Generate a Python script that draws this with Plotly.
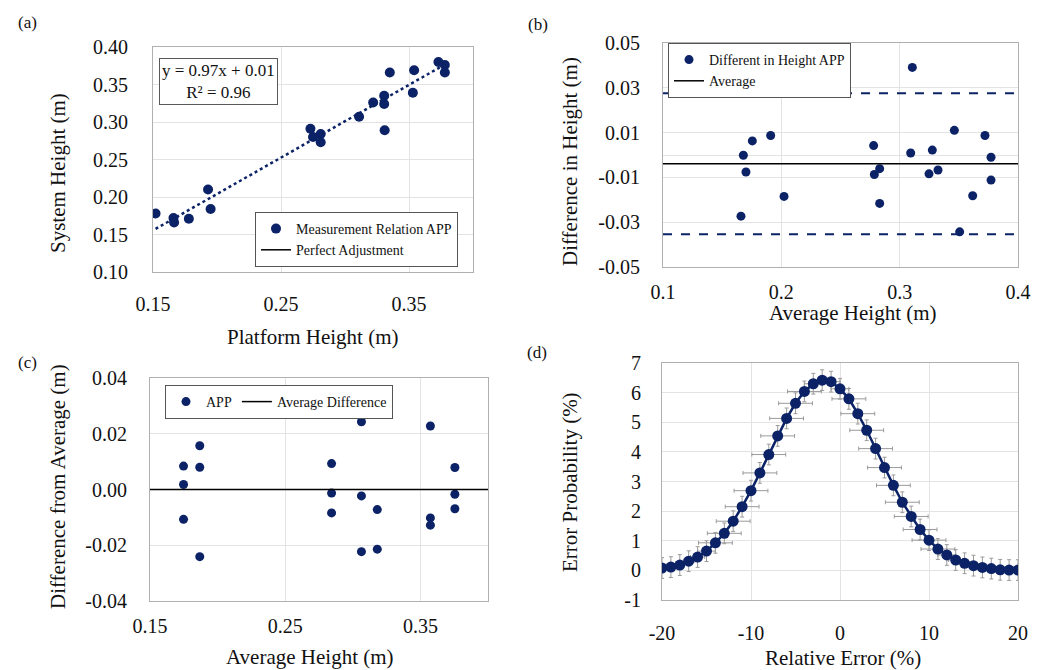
import plotly.graph_objects as go

# ---------------- DATA ----------------
# (a) Platform height vs system height
a_platform = [0.152, 0.166, 0.1665, 0.178, 0.193, 0.195, 0.273, 0.275, 0.281, 0.281, 0.311,
              0.322, 0.3306, 0.3306, 0.331, 0.335, 0.354, 0.353, 0.373, 0.378, 0.378]
a_system = [0.178, 0.172, 0.166, 0.171, 0.210, 0.184, 0.291, 0.280, 0.284, 0.273, 0.307,
            0.326, 0.335, 0.324, 0.289, 0.366, 0.369, 0.339, 0.380, 0.376, 0.366]
a_slope = 0.97
a_intercept = 0.01
a_equation = "y = 0.97x + 0.01<br>R² = 0.96"

# (b) Bland-Altman: difference in height
b_avg = [0.1659, 0.1679, 0.1701, 0.1755, 0.191, 0.2023, 0.278, 0.2786, 0.2831, 0.2831, 0.3093,
         0.3107, 0.3248, 0.3276, 0.3324, 0.3462, 0.3507, 0.3617, 0.3721, 0.3772, 0.3772]
b_diff = [-0.0273, -0.0001, -0.0076, 0.0063, 0.0087, -0.0185, 0.0042, -0.0087, -0.0061, -0.0216, 0.0009,
          0.0391, -0.0084, 0.0022, -0.0067, 0.0110, -0.0343, -0.0182, 0.0087, -0.0010, -0.0112]
b_mean_diff = -0.0039
b_upper = 0.0276
b_lower = -0.0354

# (c) Difference from average
c_avg = [0.1748, 0.1748, 0.1748, 0.1868, 0.1868, 0.1868, 0.2843, 0.2843, 0.2843, 0.3064, 0.3064,
         0.3064, 0.3181, 0.3181, 0.3181, 0.3574, 0.3574, 0.3574, 0.3755, 0.3755, 0.3755]
c_diff = [0.0084, 0.0018, -0.0107, 0.0157, 0.0080, -0.0241, 0.0093, -0.0013, -0.0084, 0.0243, -0.0023,
          -0.0223, 0.0284, -0.0072, -0.0214, 0.0228, -0.0102, -0.0128, 0.0079, -0.0017, -0.0069]
c_mean = 0.0

# (d) Error probability distribution
d_err = list(range(-20, 21))
d_prob = [0.08, 0.11, 0.18, 0.31, 0.45, 0.65, 0.93, 1.25, 1.66, 2.15, 2.69, 3.29, 3.91, 4.54, 5.13,
          5.64, 6.04, 6.30, 6.42, 6.37, 6.13, 5.79, 5.29, 4.73, 4.11, 3.47, 2.87, 2.30, 1.82, 1.38,
          1.02, 0.72, 0.52, 0.35, 0.24, 0.16, 0.10, 0.06, 0.02, 0.01, 0.01]
d_xerr = [0.1, 0.2, 0.4, 0.6, 0.8, 1.0,
          1.9, 1.9, 1.9, 1.9, 1.9, 1.9, 1.9, 1.9, 1.9, 1.9, 1.9,
          1.0, 1.0, 1.0, 1.0,
          1.9, 1.9, 1.9, 1.9, 1.9, 1.9, 1.9, 1.9, 1.9, 1.9,
          1.9, 1.0, 0.8, 0.5,
          0.3, 0.2, 0.1, 0.1, 0.1, 0.1]
d_yerr = 0.35

# tick labels
a_xticks = [0.15, 0.25, 0.35]
a_yticks = [0.10, 0.15, 0.20, 0.25, 0.30, 0.35, 0.40]
b_xticks = [0.1, 0.2, 0.3, 0.4]
b_yticks = [-0.05, -0.03, -0.01, 0.01, 0.03, 0.05]
c_xticks = [0.15, 0.25, 0.35]
c_yticks = [-0.04, -0.02, 0.0, 0.02, 0.04]
d_xticks = [-20, -10, 0, 10, 20]
d_yticks = list(range(-1, 8))

# ---------------- STYLE ----------------
PAGE_W, PAGE_H = 1045, 670
OFF = 8  # default page margin before the plot div
W, H = PAGE_W - OFF, PAGE_H - OFF
NAVY = "#0b2266"
FONT = "Liberation Serif, Times New Roman, serif"
GRID = "#e3e3e3"
BORDER = "#b0b0b0"
TXT = "#111111"


def fx(px):
    return (px - OFF) / W


def fy(py):
    return 1 - (py - OFF) / H


def lab(v, fmt):
    return (fmt % v).replace("−", "-")


fig = go.Figure()

# (a)
fig.add_trace(go.Scatter(x=a_platform, y=a_system, mode="markers", name="Measurement Relation APP",
                         marker=dict(color=NAVY, size=10), xaxis="x", yaxis="y", legend="legend"))
tx = [min(a_platform), max(a_platform)]
fig.add_trace(go.Scatter(x=tx, y=[a_slope * v + a_intercept for v in tx], mode="lines",
                         line=dict(color=NAVY, width=2.5, dash="dot"), showlegend=False,
                         xaxis="x", yaxis="y"))
fig.add_trace(go.Scatter(x=[None], y=[None], mode="lines", name="Perfect Adjustment",
                         line=dict(color="black", width=1.5), xaxis="x", yaxis="y", legend="legend"))

# (b)
fig.add_trace(go.Scatter(x=b_avg, y=b_diff, mode="markers", name="Different in Height APP",
                         marker=dict(color=NAVY, size=9), xaxis="x2", yaxis="y2", legend="legend2"))
bx = [b_xticks[0], b_xticks[-1]]
fig.add_trace(go.Scatter(x=bx, y=[b_mean_diff] * 2, mode="lines", name="Average",
                         line=dict(color="black", width=1.5), xaxis="x2", yaxis="y2", legend="legend2"))
for v in (b_upper, b_lower):
    fig.add_trace(go.Scatter(x=bx, y=[v] * 2, mode="lines", showlegend=False,
                             line=dict(color=NAVY, width=2, dash="dash"), xaxis="x2", yaxis="y2"))

# (c)
fig.add_trace(go.Scatter(x=c_avg, y=c_diff, mode="markers", name="APP",
                         marker=dict(color=NAVY, size=9), xaxis="x3", yaxis="y3", legend="legend3"))
cx = [0.15, 0.40]
fig.add_trace(go.Scatter(x=cx, y=[c_mean] * 2, mode="lines", name="Average Difference",
                         line=dict(color="black", width=1.5), xaxis="x3", yaxis="y3", legend="legend3"))

# (d)
fig.add_trace(go.Scatter(x=d_err, y=d_prob, mode="lines+markers", showlegend=False,
                         line=dict(color=NAVY, width=2.5), marker=dict(color=NAVY, size=11),
                         error_x=dict(type="data", array=d_xerr, color="#9a9a9a", thickness=1, width=2),
                         error_y=dict(type="constant", value=d_yerr, color="#9a9a9a", thickness=1, width=2),
                         xaxis="x4", yaxis="y4"))


def axis(domain, rng, ticks, fmt, anchor, standoff, zero=False):
    return dict(domain=domain, range=rng, tickvals=ticks, ticktext=[lab(v, fmt) for v in ticks],
                showgrid=True, gridcolor=GRID, gridwidth=1, zeroline=zero, zerolinecolor=GRID,
                zerolinewidth=1, showline=True, linecolor=BORDER, linewidth=1, mirror=True,
                ticks="", ticklabelstandoff=standoff, anchor=anchor, automargin=False,
                tickfont=dict(family=FONT, size=20, color=TXT), fixedrange=True)


layout_axes = dict(
    xaxis=axis([fx(153), fx(473)], [0.15, 0.40], a_xticks, "%.2f", "y", 14),
    yaxis=axis([fy(272), fy(47)], [0.10, 0.40], a_yticks, "%.2f", "x", 20),
    xaxis2=axis([fx(663), fx(1018)], [0.1, 0.4], b_xticks, "%.1f", "y2", 7),
    yaxis2=axis([fy(267), fy(43)], [-0.05, 0.05], b_yticks, "%.2f", "x2", 18, zero=True),
    xaxis3=axis([fx(150), fx(488)], [0.15, 0.40], c_xticks, "%.2f", "y3", 7),
    yaxis3=axis([fy(601), fy(378)], [-0.04, 0.04], c_yticks, "%.2f", "x3", 18),
    xaxis4=axis([fx(662), fx(1018)], [-20, 20], d_xticks, "%d", "y4", 15),
    yaxis4=axis([fy(600), fy(363)], [-1, 7], d_yticks, "%d", "x4", 16),
)

ann = []


def text(x, y, s, size=21, angle=0):
    ann.append(dict(x=fx(x), y=fy(y), xref="paper", yref="paper", text=s, showarrow=False,
                    textangle=angle, xanchor="center", yanchor="middle",
                    font=dict(family=FONT, size=size, color=TXT)))


text(27, 22, "(a)", 17)
text(538, 24, "(b)", 17)
text(27, 362, "(c)", 17)
text(537, 352, "(d)", 17)
text(312, 337, "Platform Height (m)")
text(58, 173, "System Height (m)", angle=-90)
text(853, 313, "Average Height (m)")
text(570, 162, "Difference in Height (m)", angle=-90)
text(310, 657, "Average Height (m)")
text(58, 487, "Difference from Average (m)", angle=-90)
text(843, 658, "Relative Error (%)")
text(570, 482, "Error Probability (%)", angle=-90)

ann.append(dict(x=fx(218), y=fy(82), xref="paper", yref="paper", text=a_equation, showarrow=False,
                xanchor="center", yanchor="middle", bgcolor="white", bordercolor="#595959",
                borderwidth=1, borderpad=2, font=dict(family=FONT, size=17, color=TXT)))

leg_common = dict(bgcolor="white", bordercolor="#555555", borderwidth=1,
                  font=dict(family=FONT, size=14, color=TXT), itemwidth=30,
                  xref="paper", yref="paper", tracegroupgap=0)

fig.update_layout(
    width=W, height=H, margin=dict(l=0, r=0, t=0, b=0, pad=0, autoexpand=False),
    paper_bgcolor="white", plot_bgcolor="white",
    font=dict(family=FONT, color=TXT),
    annotations=ann,
    legend=dict(x=fx(458), y=fy(267), xanchor="right", yanchor="bottom", **leg_common),
    legend2=dict(x=fx(668), y=fy(43), xanchor="left", yanchor="top", **leg_common),
    legend3=dict(x=fx(165), y=fy(385), xanchor="left", yanchor="top", orientation="h", **leg_common),
    **layout_axes,
)

fig.write_html("out.html")
